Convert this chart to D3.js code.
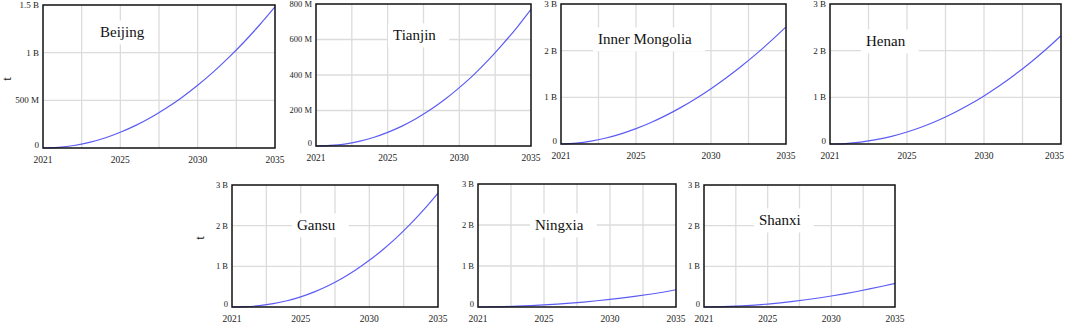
<!DOCTYPE html>
<html>
<head>
<meta charset="utf-8">
<script src="https://cdn.jsdelivr.net/npm/d3@7"></script>
<style>
  body { margin: 0; background: #fff; }
  svg { display: block; }
</style>
</head>
<body>
<svg id="chart" width="1065" height="324"></svg>
<script>
// simulation years (left edge is labelled as the start year 2021)
const years = [2020, 2021, 2022, 2023, 2024, 2025, 2026, 2027, 2028, 2029, 2030, 2031, 2032, 2033, 2034, 2035];
const xTickValues = [2020, 2025, 2030, 2035];
const xTickLabels = ["2021", "2025", "2030", "2035"];

// values, in the unit of each panel's ticks
const beijing = [0, 0.007, 0.026, 0.059, 0.105, 0.165, 0.237, 0.322, 0.421, 0.533, 0.658, 0.796, 0.948, 1.112, 1.29, 1.48];          // B
const tianjin = [0, 3, 11, 26, 48, 77, 112, 155, 205, 263, 329, 401, 482, 571, 666, 770];                                           // M
const innerMongolia = [0, 0.017, 0.060, 0.128, 0.218, 0.329, 0.461, 0.613, 0.785, 0.976, 1.185, 1.414, 1.661, 1.926, 2.209, 2.51];  // B
const henan = [0, 0.010, 0.041, 0.093, 0.165, 0.258, 0.371, 0.505, 0.660, 0.835, 1.031, 1.248, 1.485, 1.743, 2.021, 2.32];          // B
const gansu = [0, 0.007, 0.033, 0.081, 0.153, 0.250, 0.373, 0.524, 0.702, 0.910, 1.147, 1.415, 1.713, 2.043, 2.405, 2.80];          // B
const ningxia = [0, 0.003, 0.009, 0.019, 0.033, 0.050, 0.070, 0.094, 0.121, 0.152, 0.186, 0.224, 0.266, 0.311, 0.360, 0.42];       // B
const shanxi = [0, 0.004, 0.013, 0.028, 0.048, 0.073, 0.103, 0.138, 0.178, 0.222, 0.271, 0.324, 0.382, 0.444, 0.510, 0.58];        // B

const ticksBeijing = [0, 0.5, 1, 1.5];
const labelsBeijing = ["0", "500 M", "1 B", "1.5 B"];
const ticksTianjin = [0, 200, 400, 600, 800];
const labelsTianjin = ["0", "200 M", "400 M", "600 M", "800 M"];
const ticksB3 = [0, 1, 2, 3];
const labelsB3 = ["0", "1 B", "2 B", "3 B"];

const panels = [
  { name: "Beijing", values: beijing, ticks: ticksBeijing, labels: labelsBeijing, box: [43, 5, 275, 148], title: [100, 34], fs: 9 },
  { name: "Tianjin", values: tianjin, ticks: ticksTianjin, labels: labelsTianjin, box: [316, 4, 531, 146], title: [393, 37], fs: 8.5 },
  { name: "Inner Mongolia", values: innerMongolia, ticks: ticksB3, labels: labelsB3, box: [561, 4, 786, 144], title: [598, 41], fs: 9 },
  { name: "Henan", values: henan, ticks: ticksB3, labels: labelsB3, box: [830, 4, 1061, 144], title: [866, 43], fs: 9 },
  { name: "Gansu", values: gansu, ticks: ticksB3, labels: labelsB3, box: [232, 185, 438, 307], title: [297, 227], fs: 8.5 },
  { name: "Ningxia", values: ningxia, ticks: ticksB3, labels: labelsB3, box: [478, 184, 676, 307], title: [535, 227], fs: 8.5 },
  { name: "Shanxi", values: shanxi, ticks: ticksB3, labels: labelsB3, box: [704, 185, 895, 307], title: [759, 222], fs: 8.5 }
];

const serif = "'Liberation Serif', 'Times New Roman', serif";
const svg = d3.select("#chart");
const W = +svg.attr("width");

panels.forEach(p => {
  const [x0, y0, x1, y1] = p.box;
  const g = svg.append("g").attr("class", "panel");

  const x = d3.scaleLinear().domain([years[0], years[years.length - 1]]).range([x0, x1]);
  const y = d3.scaleLinear().domain([0, p.ticks[p.ticks.length - 1]]).range([y1, y0]);

  // grid: six equal columns, rows at the y ticks
  const gridX = d3.range(1, 6).map(i => x0 + (x1 - x0) * i / 6);
  g.selectAll(".vgrid").data(gridX).join("line")
    .attr("x1", d => d).attr("x2", d => d)
    .attr("y1", y0).attr("y2", y1)
    .attr("stroke", "#dcdcdc").attr("stroke-width", 1.3);
  g.selectAll(".hgrid").data(p.ticks.slice(1, -1)).join("line")
    .attr("x1", x0).attr("x2", x1)
    .attr("y1", d => y(d)).attr("y2", d => y(d))
    .attr("stroke", "#dcdcdc").attr("stroke-width", 1.3);

  // title with white box behind it
  const title = g.append("text")
    .attr("x", p.title[0]).attr("y", p.title[1])
    .attr("dominant-baseline", "middle")
    .attr("font-family", serif).attr("font-size", 15)
    .attr("fill", "#111")
    .text(p.name);
  const bb = title.node().getBBox();
  g.insert("rect", "text")
    .attr("x", bb.x - 5).attr("y", bb.y - 4)
    .attr("width", bb.width + 18).attr("height", bb.height + 8)
    .attr("fill", "#fff");

  // curve
  const line = d3.line().x((d, i) => x(years[i])).y(d => y(d)).curve(d3.curveMonotoneX);
  g.append("path")
    .attr("d", line(p.values))
    .attr("fill", "none")
    .attr("stroke", "#5c5cf5")
    .attr("stroke-width", 1.2);

  // frame
  g.append("rect")
    .attr("x", x0).attr("y", y0)
    .attr("width", x1 - x0).attr("height", y1 - y0)
    .attr("fill", "none").attr("stroke", "#111").attr("stroke-width", 1.5);

  // y tick labels
  g.selectAll(".ylab").data(p.ticks).join("text")
    .attr("x", x0 - 4)
    .attr("y", (d, i) => y(d) + (i === 0 ? -2 : 1))
    .attr("text-anchor", "end")
    .attr("dominant-baseline", "middle")
    .attr("font-family", serif).attr("font-size", p.fs)
    .attr("fill", "#222")
    .text((d, i) => p.labels[i]);

  // x tick labels, kept inside the page at the right edge
  g.selectAll(".xlab").data(xTickValues).join("text")
    .attr("y", y1 + 15)
    .attr("text-anchor", "middle")
    .attr("font-family", serif).attr("font-size", 9.5)
    .attr("fill", "#222")
    .text((d, i) => xTickLabels[i])
    .attr("x", function (d) {
      const half = this.getComputedTextLength() / 2;
      return Math.min(x(d), W - 1 - half);
    });
});

// y axis unit labels
[[8, 79], [201, 238]].forEach(([tx, ty]) => {
  svg.append("text")
    .attr("transform", `translate(${tx},${ty}) rotate(-90)`)
    .attr("text-anchor", "middle")
    .attr("dominant-baseline", "middle")
    .attr("font-family", serif).attr("font-size", 13)
    .attr("fill", "#111")
    .text("t");
});
</script>
</body>
</html>
